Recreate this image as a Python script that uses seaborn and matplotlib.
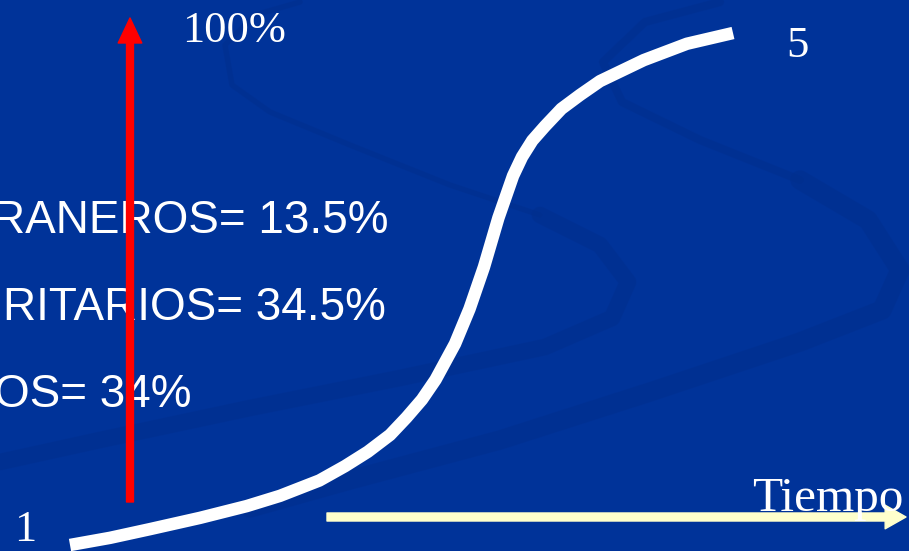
import numpy as np
import pandas as pd
import matplotlib
matplotlib.use("Agg")
import matplotlib.pyplot as plt
from matplotlib.patches import FancyArrowPatch
import seaborn as sns

# S-curve: time (1..5) vs. percent adoption
tiempo = [1.000, 1.241, 1.481, 1.782, 2.063, 2.263, 2.500, 2.654, 2.791, 2.925, 3.024,
          3.117, 3.199, 3.316, 3.403, 3.490, 3.577, 3.665, 3.719, 3.781, 3.857, 3.956,
          4.068, 4.188, 4.451, 4.711, 4.988]
porcentaje = [0.0, 1.4, 3.1, 5.3, 7.6, 9.6, 12.6, 15.4, 18.2, 21.5, 24.9,
              28.4, 32.3, 39.3, 46.1, 54.3, 63.9, 72.1, 75.8, 79.0, 81.8, 85.2,
              87.9, 90.6, 94.7, 97.9, 100.0]

# text shown on the slide (cut off at the left edge)
etiquetas = ["RANEROS= 13.5%", "RITARIOS= 34.5%", "OS= 34%"]
etiqueta_x = [388, 386, 192]
etiqueta_y = [233, 320, 407]

fondo = "#003399"
oscuro = "#002f8e"
W, H = 909, 551

df = pd.DataFrame({"Tiempo": tiempo, "Porcentaje": porcentaje})

sns.set_style("white")
fig = plt.figure(figsize=(9.09, 5.51), dpi=100, facecolor=fondo)

# background "S" swooshes of the slide template (pixel space)
bg = fig.add_axes([0, 0, 1, 1], zorder=-1)
bg.set_xlim(0, W); bg.set_ylim(H, 0); bg.axis("off")
bg.set_facecolor(fondo)
swoosh = dict(color=oscuro, alpha=0.55, solid_capstyle="round", solid_joinstyle="round")
bg.plot([300, 255, 225, 232, 270, 350, 450, 540], [2, 15, 45, 85, 112, 145, 185, 215], lw=4, **swoosh)
bg.plot([540, 600, 628, 612, 545, 400, 250, 100, 0], [215, 245, 282, 318, 347, 378, 408, 440, 462], lw=12, **swoosh)
bg.plot([720, 645, 603, 622, 700, 800], [2, 22, 62, 102, 140, 180], lw=6, **swoosh)
bg.plot([800, 868, 900, 882, 800, 650, 500, 350, 250], [180, 220, 270, 310, 342, 392, 440, 480, 508], lw=14, **swoosh)

ax = fig.add_axes([0, 0, 1, 1])
ax.patch.set_alpha(0)
sns.lineplot(data=df, x="Tiempo", y="Porcentaje", ax=ax, color="white",
             linewidth=9, solid_capstyle="butt", solid_joinstyle="round", zorder=3)

# map slide pixels to data: t=1 at x=70, t=5 at x=735; 0% at y=545, 100% at y=33
sx = (735 - 70) / 4.0
sy = (545 - 33) / 100.0
ax.set_xlim(1 - 70 / sx, 1 + (W - 70) / sx)
ax.set_ylim(-(H - 545) / sy, 100 + 33 / sy)
ax.axis("off")

def fx(px):
    return px / W

def fy(py):
    return (H - py) / H

for txt, x, y in zip(etiquetas, etiqueta_x, etiqueta_y):
    ax.text(fx(x), fy(y), txt, transform=ax.transAxes, ha="right", va="baseline",
            color="white", fontsize=33, family="Liberation Sans", zorder=2)

serif = dict(color="white", family="Liberation Serif", transform=ax.transAxes, va="baseline")
ax.text(fx(182), fy(42), "100%", fontsize=32, ha="left", **serif)
ax.text(fx(786), fy(57), "5", fontsize=32, ha="left", **serif)
ax.text(fx(14), fy(541), "1", fontsize=32, ha="left", **serif)
ax.text(fx(752), fy(511), "Tiempo", fontsize=35.5, ha="left", zorder=5, **serif)

# red vertical arrow
red = FancyArrowPatch((fx(130), fy(502)), (fx(130), fy(18)), transform=ax.transAxes,
                      arrowstyle="simple,head_length=18,head_width=17,tail_width=5",
                      mutation_scale=1, color="#ff0000", shrinkA=0, shrinkB=0, zorder=4)
ax.add_patch(red)

# light yellow time arrow
yel = FancyArrowPatch((fx(327), fy(517)), (fx(906), fy(517)), transform=ax.transAxes,
                      arrowstyle="simple,head_length=15,head_width=17,tail_width=5.8",
                      mutation_scale=1, color="#ffffcc", shrinkA=0, shrinkB=0, zorder=4)
ax.add_patch(yel)

fig.savefig("out.png", dpi=100, facecolor=fondo)
